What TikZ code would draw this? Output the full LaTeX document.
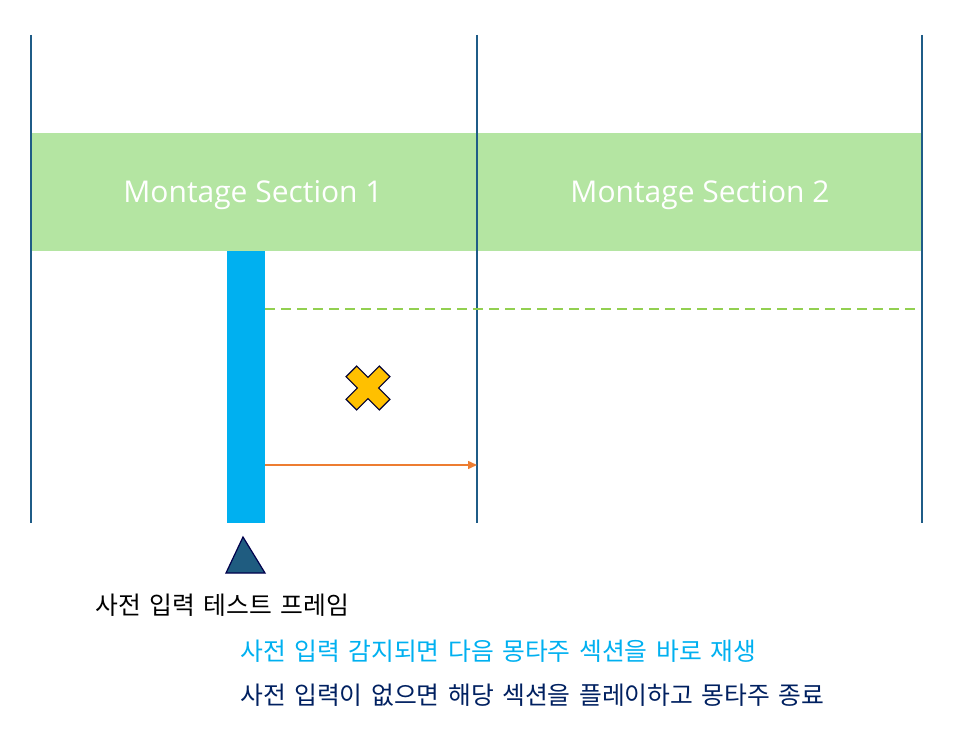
\documentclass[tikz,border=0pt]{standalone}
\usepackage{fontspec}
\setmainfont{Noto Sans CJK KR}
\newfontfamily\latinfont{Open Sans}
\usetikzlibrary{arrows.meta}
\newcommand\notefont{\fontsize{24.8}{29}\selectfont\spaceskip 8.5pt\relax}
\definecolor{lanecol}{HTML}{1F5C87}
\definecolor{bandcol}{HTML}{B4E5A2}
\definecolor{barcol}{HTML}{00B0F0}
\definecolor{dashcol}{HTML}{92D050}
\definecolor{arrowcol}{HTML}{ED7D31}
\definecolor{xcol}{HTML}{FFC000}
\definecolor{tricol}{HTML}{1F5C80}
\definecolor{navycol}{HTML}{002060}
\begin{document}
\begin{tikzpicture}[x=1pt,y=-1pt,
  lane/.style={draw=lanecol,line width=1.6pt},
  sectionlabel/.style={text=white,font=\latinfont\fontsize{30}{34}\selectfont},
  note/.style={anchor=west,inner sep=0pt,font=\notefont}]
\useasboundingbox (0,0) rectangle (956,743);
% band
\fill[bandcol] (31,133) rectangle (922,251);
% lanes
\coordinate (l1t) at (31,35); \coordinate (l1b) at (31,523);
\coordinate (l2t) at (477,35); \coordinate (l2b) at (477,523);
\coordinate (l3t) at (922,35); \coordinate (l3b) at (922,523);
\draw[lane] (l1t) -- (l1b);
\draw[lane] (l2t) -- (l2b);
\draw[lane] (l3t) -- (l3b);
\node[sectionlabel] (s1) at (253,195) {Montage Section 1};
\node[sectionlabel] (s2) at (700,195) {Montage Section 2};
% bar
\fill[barcol] (227,251) rectangle (265,523);
\coordinate (dashstart) at (265,309);
\coordinate (dashend) at (918,309);
\draw[dashcol,line width=1.5pt,dash pattern=on 10pt off 6pt] (dashstart) -- (dashend);
\coordinate (arrstart) at (265,465);
\coordinate (arrend) at (477,465);
\draw[arrowcol,line width=1.5pt,-{Triangle[length=9pt,width=8pt]}] (arrstart) -- (arrend);
% X
\begin{scope}[shift={(368,388)},rotate=45]
\draw[fill=xcol,draw=black!80!blue,line width=1.2pt,line join=miter]
 (7.5,7.5) -- (7.5,23.5) -- (-7.5,23.5) -- (-7.5,7.5) -- (-23.5,7.5) -- (-23.5,-7.5)
 -- (-7.5,-7.5) -- (-7.5,-23.5) -- (7.5,-23.5) -- (7.5,-7.5) -- (23.5,-7.5) -- (23.5,7.5) -- cycle;
\end{scope}
% triangle
\draw[fill=tricol,draw=black!70!blue,line width=1.2pt,line join=miter] (243,537) -- (265,573) -- (226,573) -- cycle;
\node[note,text=black] (t1) at (95,605) {사전 입력 테스트 프레임};
\node[note,text=barcol] (t2) at (240,651) {사전 입력 감지되면 다음 몽타주 섹션을 바로 재생};
\node[note,text=navycol] (t3) at (240,695) {사전 입력이 없으면 해당 섹션을 플레이하고 몽타주 종료};
\end{tikzpicture}
\end{document}
